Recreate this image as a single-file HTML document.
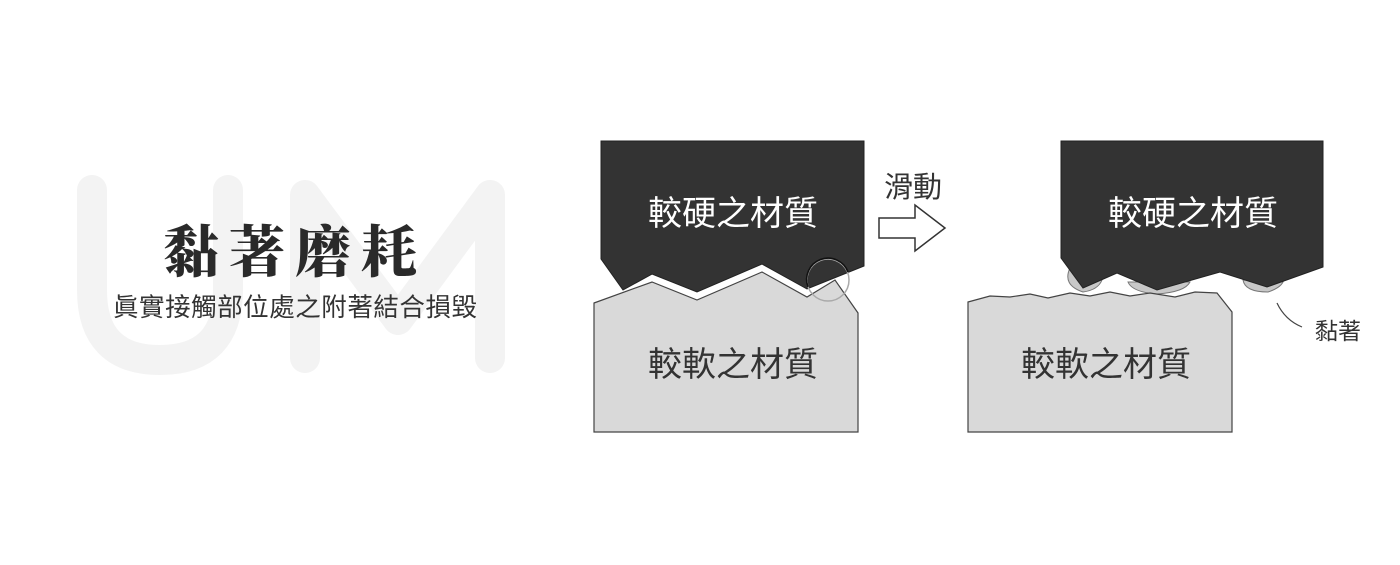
<!DOCTYPE html>
<html><head><meta charset="utf-8"><style>
html,body{margin:0;padding:0;background:#fff;}
body{width:1400px;height:560px;overflow:hidden;}
</style></head><body>
<svg width="1400" height="560" xmlns="http://www.w3.org/2000/svg">
<g fill="none" stroke="#f3f3f3" stroke-width="30" stroke-linecap="round" stroke-linejoin="round">
<path d="M92 190 V290 Q92 360 160 360 Q228 360 228 290 V190"/>
<path d="M305 358 V195 L398 320 L490 195 V358"/>
</g>
<text x="295" y="272" text-anchor="middle" font-family="'Noto Serif CJK SC','Noto Serif CJK TC',serif" font-weight="900" font-size="56" letter-spacing="10" fill="#2a2a2a">黏著磨耗</text>
<text x="295" y="316" text-anchor="middle" font-family="'Liberation Sans','Noto Sans CJK TC',sans-serif" font-size="25.5" fill="#333" textLength="364">眞實接觸部位處之附著結合損毀</text>

<!-- left diagram -->
<polygon points="601,141 864,141 864,266 807,289 762,264 697,292 652,274 623,290 601,259" fill="#333" stroke="#222" stroke-width="1"/>
<polygon points="594,303 652,282 697,300 762,272 807,297 835,280 858,313 858,432 594,432" fill="#d9d9d9" stroke="#444" stroke-width="1.2"/>
<circle cx="828" cy="280" r="21" fill="none" stroke="#aaa" stroke-width="1.5"/>
<path d="M808 287 A21 21 0 0 1 848 272" fill="none" stroke="#111" stroke-width="1.6"/>
<text x="733" y="225" text-anchor="middle" font-family="'Liberation Sans','Noto Sans CJK TC',sans-serif" font-size="34" fill="#fff">較硬之材質</text>
<text x="733" y="376" text-anchor="middle" font-family="'Liberation Sans','Noto Sans CJK TC',sans-serif" font-size="34" fill="#333">較軟之材質</text>

<!-- arrow -->
<text x="913" y="197" text-anchor="middle" font-family="'Liberation Sans','Noto Sans CJK TC',sans-serif" font-size="29" fill="#333">滑動</text>
<polygon points="879,218 915,218 915,205 945,228 915,251 915,238 879,238" fill="#fff" stroke="#333" stroke-width="1.5"/>

<!-- right diagram -->
<path d="M1070 268 Q1062 285 1083 292 Q1098 290 1102 280 Z M1128 282 Q1132 292 1157 294 Q1185 292 1190 282 Z M1243 280 Q1245 292 1268 292 Q1280 288 1283 282 Z" fill="#c8c8c8" stroke="#777" stroke-width="1"/>
<polygon points="1061,141 1323,141 1323,267 1267,287 1220,272 1157,290 1117,273 1083,288 1061,258" fill="#333" stroke="#222" stroke-width="1"/>
<polygon points="968,302 990,296 1010,297 1030,294 1048,298 1070,293 1090,296 1110,292 1130,296 1150,293 1175,297 1195,292 1217,293 1232,312 1232,432 968,432" fill="#d9d9d9" stroke="#444" stroke-width="1.2"/>
<text x="1193" y="225" text-anchor="middle" font-family="'Liberation Sans','Noto Sans CJK TC',sans-serif" font-size="34" fill="#fff">較硬之材質</text>
<text x="1106" y="376" text-anchor="middle" font-family="'Liberation Sans','Noto Sans CJK TC',sans-serif" font-size="34" fill="#333">較軟之材質</text>
<path d="M1277 303 Q1285 320 1302 327" fill="none" stroke="#444" stroke-width="1.2"/>
<text x="1338" y="339" text-anchor="middle" font-family="'Liberation Sans','Noto Sans CJK TC',sans-serif" font-size="23" fill="#333">黏著</text>
</svg>
</body></html>
